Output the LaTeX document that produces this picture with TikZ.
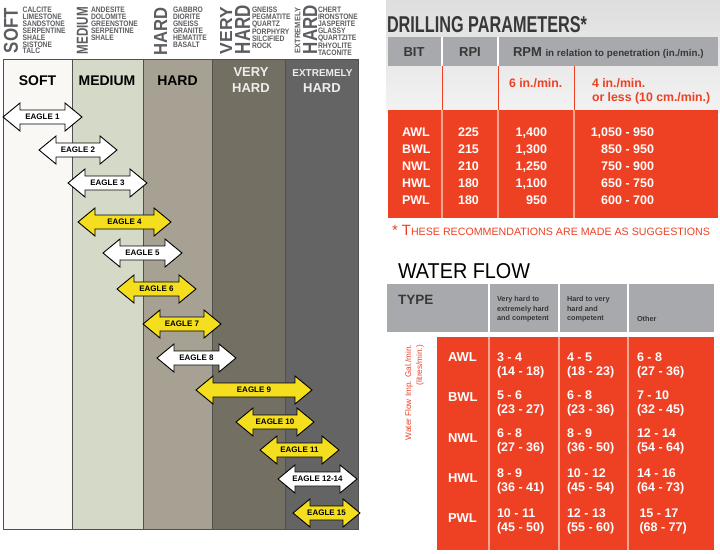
\documentclass[tikz,border=0pt]{standalone}
\usepackage{fontspec}
\setmainfont{Liberation Sans}
\newfontfamily\cnd[FakeStretch=0.85]{Liberation Sans}
\newcommand\fsz[1]{\fontsize{#1}{#1}\selectfont}
\definecolor{softc}{HTML}{F9F8F4}
\definecolor{medc}{HTML}{D5D9C8}
\definecolor{hardc}{HTML}{A6A192}
\definecolor{vhardc}{HTML}{736F63}
\definecolor{xhardc}{HTML}{646464}
\definecolor{edgegray}{HTML}{505050}
\definecolor{rockgray}{HTML}{5C5D60}
\definecolor{eyellow}{HTML}{F4DE1E}
\definecolor{tred}{HTML}{EE4023}
\definecolor{sepred}{HTML}{F6A593}
\definecolor{hdrgray}{HTML}{A7A9AC}
\definecolor{darktxt}{HTML}{383838}
\definecolor{lighttxt}{HTML}{EEEEEE}
\newcommand\eagle[6]{%
  \draw[eaglebox, fill=#5] (#2,#4) -- (#2+17,#4-14) -- (#2+17,#4-7) -- (#3-17,#4-7) -- (#3-17,#4-14) -- (#3,#4)
     -- (#3-17,#4+14) -- (#3-17,#4+7) -- (#2+17,#4+7) -- (#2+17,#4+14) -- cycle;
  \node[eaglelbl] (#1) at ({(#2+#3)/2},#4) {#6};}
\newcommand\wcell[5]{%
  \node[wval] (#1a) at (#2,#3) {#4};
  \node[wval] (#1b) at (#2,#3+14) {#5};}
\begin{document}
\begin{tikzpicture}[x=1pt,y=-1pt,
  every node/.style={inner sep=0pt, outer sep=0pt},
  colbox/.style={draw=edgegray, line width=0.9pt},
  eaglebox/.style={draw=black, line width=0.9pt, line join=miter},
  eaglelbl/.style={font=\bfseries\fsz{8}, text=black},
  rockbig/.style={rotate=90, text=rockgray},
  rocklist/.style={font=\cnd\bfseries\fontsize{7.9}{6.9}\selectfont, text=rockgray, align=left, anchor=north west},
  colhead/.style={font=\bfseries\fsz{14}, text=black, anchor=base},
  colheadw/.style={font=\bfseries\fsz{13}, text=lighttxt, anchor=base},
  dhead/.style={font=\bfseries\fsz{13}, text=darktxt, anchor=base},
  dsub/.style={font=\bfseries\fsz{12.3}, text=tred, anchor=base west},
  dval/.style={font=\bfseries\fsz{12.5}, text=white},
  wsep/.style={white, line width=1.6pt},
  rsep/.style={sepred, line width=1.6pt},
  whead/.style={font=\bfseries\fontsize{7.3}{9.8}\selectfont, text=darktxt, align=left, anchor=north west},
  wlab/.style={font=\bfseries\fsz{13}, text=white, anchor=base west},
  wval/.style={font=\bfseries\fsz{12.5}, text=white, anchor=base west}]
\useasboundingbox (0,0) rectangle (720,554);

% ---------------- rock chart ----------------
\fill[fill=softc] (3,59) rectangle (72,529);
\fill[fill=medc] (72,59) rectangle (143,529);
\fill[fill=hardc] (143,59) rectangle (212,529);
\fill[fill=vhardc] (212,59) rectangle (285,529);
\fill[fill=xhardc] (285,59) rectangle (358,529);
\draw[colbox] (3,59) rectangle (72,529);
\draw[colbox] (72,59) rectangle (143,529);
\draw[colbox] (143,59) rectangle (212,529);
\draw[colbox] (212,59) rectangle (285,529);
\draw[colbox] (285,59) rectangle (358,529);

% rotated rock class labels
\node[rockbig] (rsoft) at (11,30.5) {\resizebox{45pt}{14pt}{\bfseries SOFT}};
\node[rockbig] (rmed) at (82.5,30.5) {\resizebox{47pt}{11pt}{\bfseries MEDIUM}};
\node[rockbig] (rhard) at (160.5,31) {\resizebox{48pt}{13pt}{\bfseries HARD}};
\node[rockbig] (rvery) at (226,30.5) {\resizebox{47pt}{12pt}{\bfseries VERY}};
\node[rockbig] (rvhard) at (242.5,29.5) {\resizebox{49pt}{15pt}{\bfseries HARD}};
\node[rockbig] (rext) at (297.5,30.5) {\resizebox{45pt}{5.5pt}{\bfseries EXTREMELY}};
\node[rockbig] (rxhard) at (310,29.5) {\resizebox{49pt}{14pt}{\bfseries HARD}};

% rock lists
\node[rocklist] (lsoft) at (22.7,7) {CALCITE\\LIMESTONE\\SANDSTONE\\SERPENTINE\\SHALE\\SISTONE\\TALC};
\node[rocklist] (lmed) at (91,7) {ANDESITE\\DOLOMITE\\GREENSTONE\\SERPENTINE\\SHALE};
\node[rocklist] (lhard) at (173,7) {GABBRO\\DIORITE\\GNEISS\\GRANITE\\HEMATITE\\BASALT};
\node[rocklist] (lvhard) at (252,7) {GNEISS\\PEGMATITE\\QUARTZ\\PORPHYRY\\SILCIFIED\\ROCK};
\node[rocklist] (lxhard) at (318,7) {CHERT\\IRONSTONE\\JASPERITE\\GLASSY\\QUARTZITE\\RHYOLITE\\TACONITE};

% column headings
\node[colhead] (hsoft) at (37.5,85) {SOFT};
\node[colhead] (hmed) at (107,85) {MEDIUM};
\node[colhead] (hhard) at (177.5,85) {HARD};
\node[colheadw] (hvery) at (251,76) {VERY};
\node[colheadw] (hvhard) at (251,92) {HARD};
\node[colheadw, font=\bfseries\fsz{10}] (hext) at (322.5,76) {EXTREMELY};
\node[colheadw] (hxhard) at (322,92) {HARD};

% eagle arrows
\eagle{e1}{3}{82}{117}{white}{EAGLE 1}
\eagle{e2}{39}{117}{150}{white}{EAGLE 2}
\eagle{e3}{68}{147}{183}{white}{EAGLE 3}
\eagle{e4}{78}{171}{222}{eyellow}{EAGLE 4}
\eagle{e5}{103}{182}{253}{white}{EAGLE 5}
\eagle{e6}{117}{196}{289}{eyellow}{EAGLE 6}
\eagle{e7}{143}{221}{324}{eyellow}{EAGLE 7}
\eagle{e8}{157}{236}{358}{white}{EAGLE 8}
\eagle{e9}{196}{312}{390}{eyellow}{EAGLE 9}
\eagle{e10}{236}{314}{422}{eyellow}{EAGLE 10}
\eagle{e11}{260}{339}{450}{eyellow}{EAGLE 11}
\eagle{e12}{278}{357}{479}{white}{EAGLE 12-14}
\eagle{e15}{293}{360}{513}{eyellow}{EAGLE 15}

% ---------------- drilling parameters ----------------
\shade[top color=black!13, bottom color=black!5] (386,0) rectangle (720,112);
\node[anchor=base west, text=darktxt] (dtitle) at (387,32) {\resizebox{200pt}{16pt}{\bfseries DRILLING PARAMETERS*}};
\fill[hdrgray] (388,37) rectangle (718,66);
\draw[wsep] (442,37) -- (442,66);
\draw[wsep] (498,37) -- (498,66);
\node[dhead] (dbit) at (414,56) {BIT};
\node[dhead] (drpi) at (470,56) {RPI};
\node[dhead, anchor=base west] (drpm) at (513,56) {RPM \resizebox{158pt}{!}{\fsz{9}in relation to penetration (in./min.)}};
\draw[tred, line width=1pt] (442,66) -- (442,110);
\draw[tred, line width=1pt] (498,66) -- (498,110);
\draw[tred, line width=1pt] (574,66) -- (574,110);
\node[dsub] (d6) at (509,87) {6 in./min.};
\node[dsub] (d4a) at (592,87) {4 in./min.};
\node[dsub] (d4b) at (592,101) {or less (10 cm./min.)};
\fill[tred] (388,110) rectangle (718,218);
\draw[rsep] (442,110) -- (442,218);
\draw[rsep] (498,110) -- (498,218);
\draw[rsep] (574,110) -- (574,218);
\node[dval, anchor=base west] (db1) at (402,136) {AWL};
\node[dval, anchor=base west] (db2) at (402,153) {BWL};
\node[dval, anchor=base west] (db3) at (402,170) {NWL};
\node[dval, anchor=base west] (db4) at (402,187) {HWL};
\node[dval, anchor=base west] (db5) at (402,204) {PWL};
\node[dval, anchor=base] (dr1) at (468.5,136) {225};
\node[dval, anchor=base] (dr2) at (468.5,153) {215};
\node[dval, anchor=base] (dr3) at (468.5,170) {210};
\node[dval, anchor=base] (dr4) at (468.5,187) {180};
\node[dval, anchor=base] (dr5) at (468.5,204) {180};
\node[dval, anchor=base east] (ds1) at (547,136) {1,400};
\node[dval, anchor=base east] (ds2) at (547,153) {1,300};
\node[dval, anchor=base east] (ds3) at (547,170) {1,250};
\node[dval, anchor=base east] (ds4) at (547,187) {1,100};
\node[dval, anchor=base east] (ds5) at (547,204) {950};
\node[dval, anchor=base east] (df1) at (654,136) {1,050 - 950};
\node[dval, anchor=base east] (df2) at (654,153) {850 - 950};
\node[dval, anchor=base east] (df3) at (654,170) {750 - 900};
\node[dval, anchor=base east] (df4) at (654,187) {650 - 750};
\node[dval, anchor=base east] (df5) at (654,204) {600 - 700};
\node[anchor=base west, text=tred] (dnote) at (392,235) {\resizebox{318pt}{!}{{\fsz{13}* T}{\fsz{9.3}HESE RECOMMENDATIONS ARE MADE AS SUGGESTIONS}}};

% ---------------- water flow ----------------
\node[anchor=base west, text=black] (wtitle) at (398,278) {\resizebox{132pt}{15pt}{WATER FLOW}};
\fill[hdrgray] (387,284) rectangle (714,332);
\draw[wsep] (489,284) -- (489,332);
\draw[wsep] (559,284) -- (559,332);
\draw[wsep] (628,284) -- (628,332);
\node[font=\bfseries\fsz{13.5}, text=darktxt, anchor=base west] (wtype) at (398,304) {TYPE};
\node[whead] (wh1) at (497,296) {Very hard to\\extremely hard\\and competent};
\node[whead] (wh2) at (567,296) {Hard to very\\hard and\\competent};
\node[whead, anchor=base west] (wh3) at (637,321.5) {Other};
\fill[tred] (437,337) rectangle (714,550);
\draw[rsep] (489,337) -- (489,550);
\draw[rsep] (559,337) -- (559,550);
\draw[rsep] (628,337) -- (628,550);
\node[rotate=90, anchor=east, align=right, text=tred, font=\fontsize{8.2}{11}\selectfont] (wside) at (414.5,345) {Water Flow Imp. Gal./min.\\(litres/min.)};
\node[wlab] (wl1) at (448,361.7) {AWL};
\node[wlab] (wl2) at (448,401.4) {BWL};
\node[wlab] (wl3) at (448,442.7) {NWL};
\node[wlab] (wl4) at (448,482.4) {HWL};
\node[wlab] (wl5) at (448,522.7) {PWL};
\wcell{a1}{497}{361.7}{3 - 4}{(14 - 18)}
\wcell{a2}{567}{361.7}{4 - 5}{(18 - 23)}
\wcell{a3}{637}{361.7}{6 - 8}{(27 - 36)}
\wcell{b1}{497}{399.7}{5 - 6}{(23 - 27)}
\wcell{b2}{567}{399.7}{6 - 8}{(23 - 36)}
\wcell{b3}{637}{399.7}{7 - 10}{(32 - 45)}
\wcell{n1}{497}{437.7}{6 - 8}{(27 - 36)}
\wcell{n2}{567}{437.7}{8 - 9}{(36 - 50)}
\wcell{n3}{637}{437.7}{12 - 14}{(54 - 64)}
\wcell{h1}{497}{477.4}{8 - 9}{(36 - 41)}
\wcell{h2}{567}{477.4}{10 - 12}{(45 - 54)}
\wcell{h3}{637}{477.4}{14 - 16}{(64 - 73)}
\wcell{p1}{497}{517.7}{10 - 11}{(45 - 50)}
\wcell{p2}{567}{517.7}{12 - 13}{(55 - 60)}
\wcell{p3}{639.5}{517.7}{15 - 17}{(68 - 77)}
\end{tikzpicture}
\end{document}
